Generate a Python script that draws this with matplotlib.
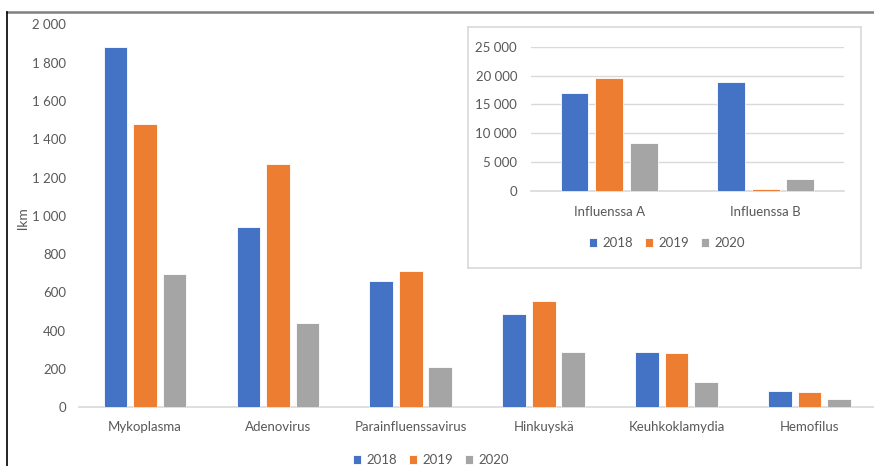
import matplotlib
matplotlib.use("Agg")
import matplotlib.pyplot as plt
from matplotlib.ticker import FuncFormatter, MultipleLocator
from matplotlib.lines import Line2D
import numpy as np

plt.rcParams['font.family'] = ['Lato', 'DejaVu Sans']

categories = ["Mykoplasma", "Adenovirus", "Parainfluenssavirus", "Hinkuyskä", "Keuhkoklamydia", "Hemofilus"]
years = ["2018", "2019", "2020"]
v2018 = [1880, 942, 660, 485, 290, 87]
v2019 = [1480, 1270, 712, 555, 281, 78]
v2020 = [695, 440, 210, 291, 130, 43]

inset_categories = ["Influenssa A", "Influenssa B"]
i2018 = [17050, 18800]
i2019 = [19650, 350]
i2020 = [8250, 2100]

colors = ["#4472C4", "#ED7D31", "#A5A5A5"]
txt = "#595959"
grid = "#D9D9D9"

def fmt(x, pos):
    return f"{int(round(x)):,}".replace(",", " ")

W, H = 874, 466
fig = plt.figure(figsize=(W/100, H/100), dpi=100)

# outer frame lines
fig.add_artist(Line2D([7/W, 1], [1-12/H, 1-12/H], color="#808080", lw=1.8, transform=fig.transFigure))
fig.add_artist(Line2D([7/W, 7/W], [0, 1-12/H], color="#000000", lw=1.2, transform=fig.transFigure))

ax = fig.add_axes([78.5/W, 1-407.3/H, (876-78.5)/W, (407.3-24.3)/H])
x = np.arange(len(categories))
bw = 0.178
off = 0.222
bars = []
for i, vals in enumerate([v2018, v2019, v2020]):
    b = ax.bar(x + (i-1)*off, vals, width=bw, color=colors[i], edgecolor="white", linewidth=0.6, label=years[i], zorder=3)
    bars.append(b)
ax.set_xlim(-0.5, len(categories)-0.5)
ax.set_ylim(0, 2000)
ax.yaxis.set_major_locator(MultipleLocator(200))
ax.yaxis.set_major_formatter(FuncFormatter(fmt))
ax.set_xticks(x)
ax.set_xticklabels(categories)
for s in ["top", "right", "left"]:
    ax.spines[s].set_visible(False)
ax.spines["bottom"].set_color(grid)
ax.spines["bottom"].set_linewidth(1.2)
ax.tick_params(axis="both", length=0, colors=txt, labelsize=9.5)
ax.tick_params(axis="x", pad=10)
ax.tick_params(axis="y", pad=9)
fig.text(23/W, 1-218/H, "lkm", color=txt, fontsize=10, rotation=90, ha="center", va="center")

fig.legend(handles=bars, labels=years, loc="center", bbox_to_anchor=(431/W, 1-460/H),
           ncol=3, frameon=False, fontsize=9.5, labelcolor=txt, handlelength=0.6, handleheight=0.6,
           handletextpad=0.4, columnspacing=0.9, borderaxespad=0)

# inset frame
frame = fig.add_axes([468/W, 1-268/H, (861-468)/W, (268-27)/H])
frame.set_xticks([]); frame.set_yticks([])
frame.patch.set_facecolor("white")
for s in frame.spines.values():
    s.set_color(grid); s.set_linewidth(1.2)

ins = fig.add_axes([531/W, 1-191/H, (843.8-531)/W, (191-46.7)/H])
xi = np.arange(len(inset_categories))
ibars = []
for i, vals in enumerate([i2018, i2019, i2020]):
    b = ins.bar(xi + (i-1)*off, vals, width=bw, color=colors[i], edgecolor="white", linewidth=0.6, zorder=3)
    ibars.append(b)
ins.set_xlim(-0.5, len(inset_categories)-0.5)
ins.set_ylim(0, 25000)
ins.yaxis.set_major_locator(MultipleLocator(5000))
ins.yaxis.set_major_formatter(FuncFormatter(fmt))
ins.set_xticks(xi)
ins.set_xticklabels(inset_categories)
ins.grid(axis="y", color=grid, lw=1.0, zorder=0)
for s in ["top", "right", "left"]:
    ins.spines[s].set_visible(False)
ins.spines["bottom"].set_color(grid)
ins.spines["bottom"].set_linewidth(1.2)
ins.tick_params(axis="both", length=0, colors=txt, labelsize=9.5)
ins.tick_params(axis="x", pad=11)
ins.tick_params(axis="y", pad=10)

fig.legend(handles=ibars, labels=years, loc="center", bbox_to_anchor=(667/W, 1-243/H),
           ncol=3, frameon=False, fontsize=9.5, labelcolor=txt, handlelength=0.6, handleheight=0.6,
           handletextpad=0.4, columnspacing=0.9, borderaxespad=0)

fig.savefig("out.png", dpi=100)
